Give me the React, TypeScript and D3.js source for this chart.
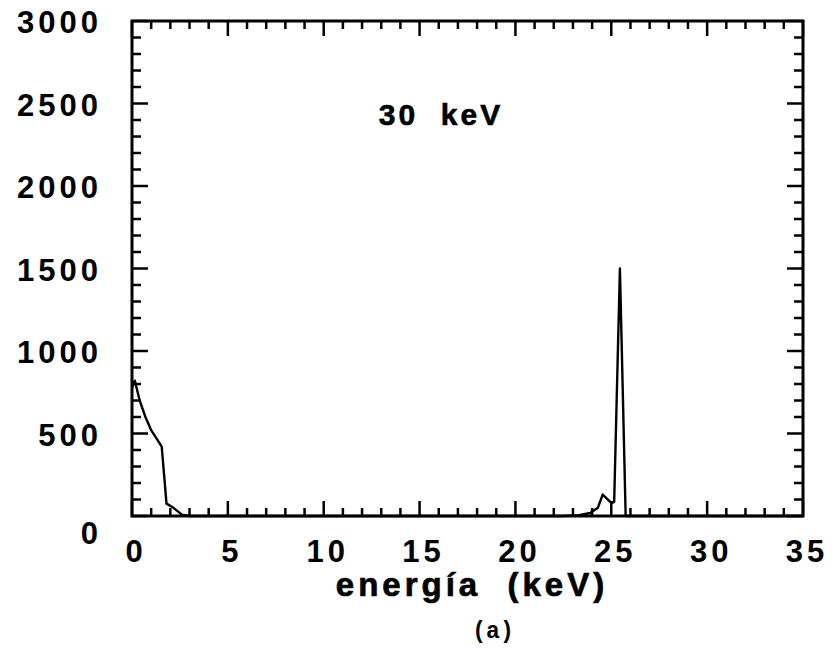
import React from "react";
import * as d3 from "d3";

const energy = [0, 0.15, 0.4, 0.7, 1.0, 1.55, 1.8, 2.1, 2.6, 3.0, 10, 20, 22.5, 23.3, 23.9, 24.3, 24.55, 25.0, 25.15, 25.45, 25.75, 26.5, 35];
const counts = [780, 820, 700, 600, 520, 420, 75, 55, 8, 0, 0, 0, 0, 5, 18, 50, 130, 80, 85, 1500, 0, 0, 0];
const xTickLabels = [0, 5, 10, 15, 20, 25, 30, 35];
const yTickLabels = [0, 500, 1000, 1500, 2000, 2500, 3000];
const title = "30  keV";
const xTitle = "energía  (keV)";
const caption = "(a)";

const W = 836, H = 650;
const L = 132, R = 803, T = 21, B = 516;

export default function App() {
  const x = d3.scaleLinear().domain([0, 35]).range([L, R]);
  const y = d3.scaleLinear().domain([0, 3000]).range([B, T]);
  const data = energy.map((e, i) => [e, counts[i]] as [number, number]);
  const line = d3.line<[number, number]>().x(d => x(d[0])).y(d => y(d[1]));
  const xMinor = d3.range(0, 36, 1);
  const yMinor = d3.range(0, 3001, 100);
  const font = "'Liberation Sans', Arial, Helvetica, sans-serif";
  return (
    <svg width={W} height={H} style={{ position: "absolute", left: 0, top: 0, background: "#fff" }}>
      <rect x={0} y={0} width={W} height={H} fill="#fff" />
      {xMinor.map(v => {
        const major = v % 5 === 0;
        const len = major ? 15 : 8;
        return (
          <g key={"xt" + v} stroke="#000" strokeWidth={2.5}>
            <line x1={x(v)} x2={x(v)} y1={B} y2={B - len} />
            <line x1={x(v)} x2={x(v)} y1={T} y2={T + len} />
          </g>
        );
      })}
      {yMinor.map(v => {
        const major = v % 500 === 0;
        const len = major ? 16 : 9;
        return (
          <g key={"yt" + v} stroke="#000" strokeWidth={2.5}>
            <line x1={L} x2={L + len} y1={y(v)} y2={y(v)} />
            <line x1={R} x2={R - len} y1={y(v)} y2={y(v)} />
          </g>
        );
      })}
      <rect x={L} y={T} width={R - L} height={B - T} fill="none" stroke="#000" strokeWidth={3} />
      <path d={line(data) || ""} fill="none" stroke="#000" strokeWidth={2.4} strokeLinejoin="round" />
      {yTickLabels.map(v => (
        <text key={"yl" + v} x={102} y={y(v) + (v === 0 ? 20 : 4)} textAnchor="end" dominantBaseline="middle"
          fontFamily={font} fontWeight="bold" fontSize={31} letterSpacing={4} fill="#000">{v}</text>
      ))}
      {xTickLabels.map(v => (
        <text key={"xl" + v} x={x(v) + 4} y={562} textAnchor="middle"
          fontFamily={font} fontWeight="bold" fontSize={31} letterSpacing={4} fill="#000">{v}</text>
      ))}
      <text x={441} y={125} textAnchor="middle" fontFamily={font} fontWeight="bold" fontSize={30}
        letterSpacing={3} stroke="#000" strokeWidth={0.6} style={{ whiteSpace: "pre" }} fill="#000">{title}</text>
      <text x={472} y={596} textAnchor="middle" fontFamily={font} fontWeight="bold" fontSize={33}
        letterSpacing={4} stroke="#000" strokeWidth={0.7} style={{ whiteSpace: "pre" }} fill="#000">{xTitle}</text>
      <text x={493} y={638} textAnchor="middle" fontFamily="'Liberation Mono', 'DejaVu Sans Mono', monospace"
        fontWeight="bold" fontSize={23} fill="#000">{caption}</text>
    </svg>
  );
}
